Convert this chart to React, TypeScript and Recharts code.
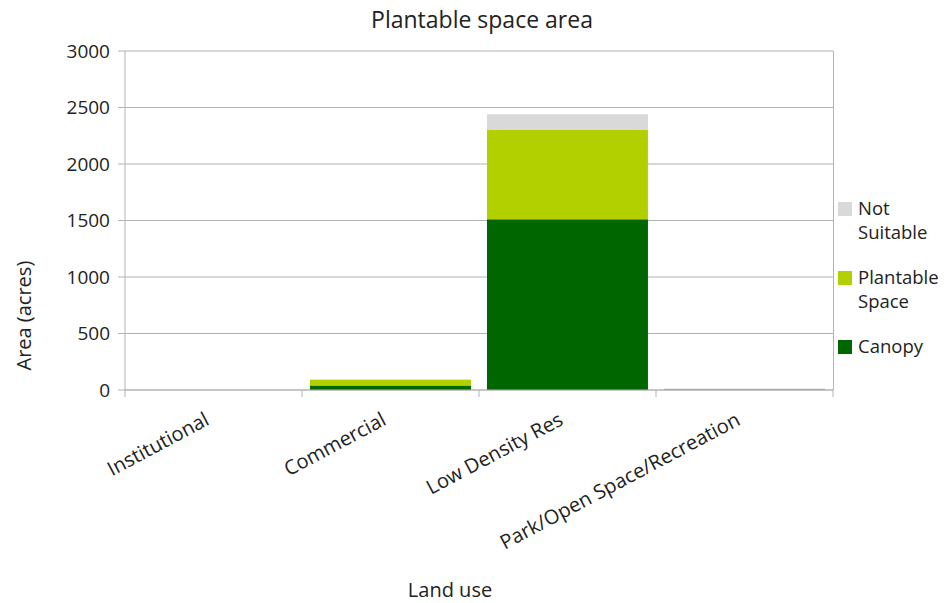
import { Bar, BarChart, CartesianGrid, XAxis, YAxis, Label } from 'recharts'

const landUses = ['Institutional', 'Commercial', 'Low Density Res', 'Park/Open Space/Recreation']
const canopy = [0, 40, 1510, 4]
const plantableSpace = [0, 50, 790, 4]
const notSuitable = [0, 6, 140, 6]
const yTicks = [0, 500, 1000, 1500, 2000, 2500, 3000]

const data = landUses.map((name, i) => ({
  name,
  canopy: canopy[i],
  plantable: plantableSpace[i],
  notSuitable: notSuitable[i],
}))

const W = 952
const H = 603
const M = { top: 51, right: 119, left: 0, bottom: 0 }
const Y_WIDTH = 125
const X_HEIGHT = 213
const band = (W - M.right - Y_WIDTH) / landUses.length

const font = "'Open Sans', 'Noto Sans', sans-serif"

const legendItems = [
  { lines: ['Not', 'Suitable'], color: '#d9d9d9' },
  { lines: ['Plantable', 'Space'], color: '#b2d000' },
  { lines: ['Canopy'], color: '#006600' },
]

function XTick(props: any) {
  const { x, y, payload, index } = props
  const left = x - band / 2
  const ax = x - 3
  const ay = y + 26
  return (
    <g>
      <line x1={left} y1={y - 8} x2={left} y2={y - 1} stroke='#b3b3b3' />
      {index === landUses.length - 1 && (
        <line x1={x + band / 2} y1={y - 8} x2={x + band / 2} y2={y - 1} stroke='#b3b3b3' />
      )}
      <text
        x={ax}
        y={ay}
        textAnchor='end'
        fontSize={20}
        fill='#222'
        fontFamily={font}
        transform={`rotate(-28 ${ax} ${ay})`}
      >
        {payload.value}
      </text>
    </g>
  )
}

export default function App() {
  return (
    <div style={{ position: 'absolute', left: 0, top: 0, width: W, height: H, background: '#fff', fontFamily: font }}>
      <div style={{ position: 'absolute', top: 3, left: 0, width: 964, textAlign: 'center', fontSize: 23, color: '#222' }}>
        Plantable space area
      </div>
      <BarChart width={W} height={H} data={data} margin={M} barCategoryGap='4.5%'>
        <CartesianGrid vertical={false} stroke='#b3b3b3' />
        <XAxis
          dataKey='name'
          height={X_HEIGHT}
          interval={0}
          tickLine={false}
          axisLine={{ stroke: '#b3b3b3' }}
          tick={<XTick />}
        >
          <Label value='Land use' position='insideBottom' offset={6} fontSize={20} fill='#222' fontFamily={font} dx={-29} />
        </XAxis>
        <YAxis
          width={Y_WIDTH}
          domain={[0, 3000]}
          ticks={yTicks}
          tickSize={7}
          tickMargin={8}
          tickLine={{ stroke: '#b3b3b3' }}
          axisLine={{ stroke: '#b3b3b3' }}
          tick={{ fontSize: 19, fill: '#222', fontFamily: font }}
        >
          <Label value='Area (acres)' angle={-90} position='insideLeft' offset={24} dy={150} fontSize={20} fill='#222' fontFamily={font} />
        </YAxis>
        <Bar dataKey='canopy' stackId='a' fill='#006600' isAnimationActive={false} />
        <Bar dataKey='plantable' stackId='a' fill='#b2d000' isAnimationActive={false} />
        <Bar dataKey='notSuitable' stackId='a' fill='#d9d9d9' isAnimationActive={false} />
      </BarChart>
      <div style={{ position: 'absolute', left: W - M.right, top: M.top, width: 1, height: H - M.top - X_HEIGHT, background: '#b3b3b3' }} />
      <div style={{ position: 'absolute', left: 838, top: 196, fontSize: 18.5, color: '#222', lineHeight: '24px' }}>
        {legendItems.map((it, i) => (
          <div key={i} style={{ display: 'flex', marginBottom: 21 }}>
            <div style={{ width: 14, height: 14, background: it.color, marginTop: 6, marginRight: 6 }} />
            <div>
              {it.lines.map((l, j) => (
                <div key={j}>{l}</div>
              ))}
            </div>
          </div>
        ))}
      </div>
    </div>
  )
}
